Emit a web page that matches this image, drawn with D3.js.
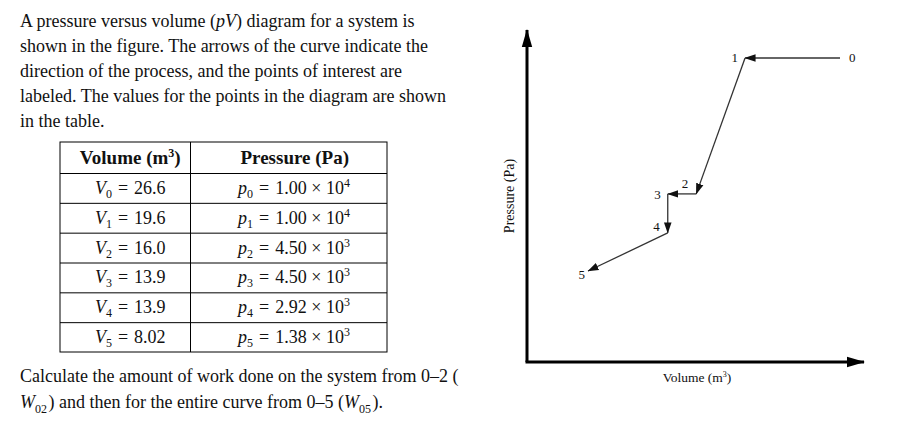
<!DOCTYPE html>
<html>
<head>
<meta charset="utf-8">
<script src="https://cdn.jsdelivr.net/npm/d3@7"></script>
<style>
  html, body { margin: 0; padding: 0; background: #fff; }
  svg { display: block; }
  text { font-family: "Liberation Serif", "Times New Roman", serif; fill: #111; }
</style>
</head>
<body>
<svg id="chart" width="900" height="430"></svg>
<script>
// ---------------- data ----------------
const pointLabels = ["0", "1", "2", "3", "4", "5"];
const volumes = [26.6, 19.6, 16.0, 13.9, 13.9, 8.02];           // m^3
const pressures = [1.00e4, 1.00e4, 4.50e3, 4.50e3, 2.92e3, 1.38e3]; // Pa
const tableHeaders = ["Volume (m", "Pressure (Pa)"];
const introLines = [
  ["A pressure versus volume (", {i: "pV"}, ") diagram for a system is"],
  ["shown in the figure. The arrows of the curve indicate the"],
  ["direction of the process, and the points of interest are"],
  ["labeled. The values for the points in the diagram are shown"],
  ["in the table."]
];
const questionLines = [
  ["Calculate the amount of work done on the system from 0\u20132 ("],
  [{i: "W"}, {sub: "02"}, ") and then for the entire curve from 0\u20135 (", {i: "W"}, {sub: "05"}, ")."]
];
const xAxisTitle = "Volume (m";
const yAxisTitle = "Pressure (Pa)";

// ---------------- layout ----------------
const svg = d3.select("#chart");
const origin = {x: 527, y: 362};
const xTip = 864, yTip = 30;
const lineColor = "#333";
const bodySize = 18;

// data scales (schematic diagram, linear fit)
const x = d3.scaleLinear().domain(d3.extent(volumes)).range([588, 840]);
const y = d3.scaleLinear().domain(d3.extent(pressures)).range([271, 58]);

// ---------------- markers ----------------
const defs = svg.append("defs");
defs.append("marker")
  .attr("id", "seg-arrow").attr("markerUnits", "userSpaceOnUse")
  .attr("viewBox", "0 -5 11 10").attr("refX", 10.5).attr("refY", 0)
  .attr("markerWidth", 11).attr("markerHeight", 10).attr("orient", "auto")
  .append("path").attr("d", "M0,-3.8L11,0L0,3.8Z").attr("fill", "#111");
defs.append("marker")
  .attr("id", "axis-arrow").attr("markerUnits", "userSpaceOnUse")
  .attr("viewBox", "0 -6 18 12").attr("refX", 17).attr("refY", 0)
  .attr("markerWidth", 18).attr("markerHeight", 12).attr("orient", "auto")
  .append("path").attr("d", "M0,-5.2L18,0L0,5.2Z").attr("fill", "#000");

// ---------------- helper for rich text ----------------
function richText(sel, parts, baseSize, subSize) {
  parts.forEach(p => {
    if (typeof p === "string") {
      sel.append("tspan").attr("font-size", baseSize).text(p);
    } else if (p.i) {
      sel.append("tspan").attr("font-style", "italic").attr("font-size", baseSize).text(p.i);
    } else if (p.sub) {
      sel.append("tspan").attr("font-size", subSize).attr("dy", baseSize * 0.25).text(p.sub);
      sel.append("tspan").attr("font-size", baseSize).attr("dy", -baseSize * 0.25).text("\u200A");
    }
  });
}

// ---------------- intro paragraph ----------------
const introY = d3.scaleLinear().domain([0, 1]).range([27, 52]);
introLines.forEach((parts, k) => {
  const t = svg.append("text").attr("x", 20).attr("y", introY(k)).attr("font-size", bodySize);
  richText(t, parts, bodySize, 12);
});

// ---------------- table ----------------
const table = {x0: 60, x1: 387, xDiv: 190.5, top: 142, headBottom: 173, bottom: 352};
const rowScale = d3.scaleBand().domain(pointLabels).range([table.headBottom, table.bottom]);
const tg = svg.append("g");
tg.append("rect").attr("x", table.x0).attr("y", table.top)
  .attr("width", table.x1 - table.x0).attr("height", table.bottom - table.top)
  .attr("fill", "none").attr("stroke", "#000").attr("stroke-width", 1);
tg.append("line").attr("x1", table.xDiv).attr("x2", table.xDiv)
  .attr("y1", table.top).attr("y2", table.bottom).attr("stroke", "#000");
tg.selectAll("line.row").data(pointLabels).join("line").attr("class", "row")
  .attr("x1", table.x0).attr("x2", table.x1)
  .attr("y1", d => rowScale(d) + 0.5).attr("y2", d => rowScale(d) + 0.5)
  .attr("stroke", "#000");

const col1 = (table.x0 + table.xDiv) / 2 + 5;
const col2 = (table.xDiv + table.x1) / 2 + 6;
const h1 = tg.append("text").attr("x", col1).attr("y", 164).attr("text-anchor", "middle")
  .attr("font-weight", "bold").attr("font-size", 19);
h1.append("tspan").text(tableHeaders[0]);
h1.append("tspan").attr("font-size", 12).attr("dy", -7).text("3");
h1.append("tspan").attr("dy", 7).text(")");
tg.append("text").attr("x", col2).attr("y", 164).attr("text-anchor", "middle")
  .attr("font-weight", "bold").attr("font-size", 19).text(tableHeaders[1]);

const rel = "\u2004=\u2004";
pointLabels.forEach((lab, i) => {
  const by = rowScale(lab) + rowScale.bandwidth() / 2 + 6;
  const t1 = tg.append("text").attr("x", col1).attr("y", by).attr("text-anchor", "middle").attr("font-size", bodySize);
  t1.append("tspan").attr("font-style", "italic").text("V");
  t1.append("tspan").attr("font-size", 12).attr("dy", 4).text(lab);
  t1.append("tspan").attr("dy", -4).text(rel + volumes[i].toPrecision(3));

  const e = Math.floor(Math.log10(pressures[i]));
  const m = (pressures[i] / Math.pow(10, e)).toFixed(2);
  const t2 = tg.append("text").attr("x", col2).attr("y", by).attr("text-anchor", "middle").attr("font-size", bodySize);
  t2.append("tspan").attr("font-style", "italic").text("p");
  t2.append("tspan").attr("font-size", 12).attr("dy", 4).text(lab);
  t2.append("tspan").attr("dy", -4).text(rel + m + " \u00D7 10");
  t2.append("tspan").attr("font-size", 12).attr("dy", -7).text(String(e));
  t2.append("tspan").attr("dy", 7).text("\u200A");
});

// ---------------- question ----------------
const qY = d3.scaleLinear().domain([0, 1]).range([382, 408]);
questionLines.forEach((parts, k) => {
  const t = svg.append("text").attr("x", 20).attr("y", qY(k)).attr("font-size", bodySize);
  richText(t, parts, bodySize, 12);
});

// ---------------- axes ----------------
const ag = svg.append("g");
ag.append("line").attr("x1", origin.x).attr("y1", origin.y).attr("x2", origin.x).attr("y2", yTip)
  .attr("stroke", "#000").attr("stroke-width", 3).attr("marker-end", "url(#axis-arrow)");
ag.append("line").attr("x1", origin.x - 1.5).attr("y1", origin.y).attr("x2", xTip).attr("y2", origin.y)
  .attr("stroke", "#000").attr("stroke-width", 3).attr("marker-end", "url(#axis-arrow)");

const xt = ag.append("text").attr("x", 697).attr("y", 382).attr("text-anchor", "middle").attr("font-size", 13.5);
xt.append("tspan").text(xAxisTitle);
xt.append("tspan").attr("font-size", 8).attr("dy", -5).text("3");
xt.append("tspan").attr("dy", 5).text(")");
ag.append("text").attr("transform", "translate(514,196) rotate(-90)")
  .attr("text-anchor", "middle").attr("font-size", 14).text(yAxisTitle);

// ---------------- process curve ----------------
const pts = volumes.map((v, i) => ({v, p: pressures[i], label: pointLabels[i]}));
const segs = d3.pairs(pts);
const cg = svg.append("g");
cg.selectAll("line.seg").data(segs).join("line").attr("class", "seg")
  .attr("x1", d => x(d[0].v)).attr("y1", d => y(d[0].p))
  .attr("x2", d => x(d[1].v)).attr("y2", d => y(d[1].p))
  .attr("stroke", lineColor).attr("stroke-width", 1.3)
  .attr("marker-end", "url(#seg-arrow)");

// label placement (offset from point, anchor)
const labelPlace = [
  {dx: 9, dy: 4, a: "start"},
  {dx: -7, dy: 4, a: "end"},
  {dx: -8, dy: -6, a: "end"},
  {dx: -7, dy: 5, a: "end"},
  {dx: -8, dy: -2, a: "end"},
  {dx: -3, dy: 8, a: "end"}
];
cg.selectAll("text.pl").data(pts).join("text").attr("class", "pl")
  .attr("x", (d, i) => x(d.v) + labelPlace[i].dx)
  .attr("y", (d, i) => y(d.p) + labelPlace[i].dy)
  .attr("text-anchor", (d, i) => labelPlace[i].a)
  .attr("font-size", 13).attr("fill", "#333")
  .text(d => d.label);
</script>
</body>
</html>
